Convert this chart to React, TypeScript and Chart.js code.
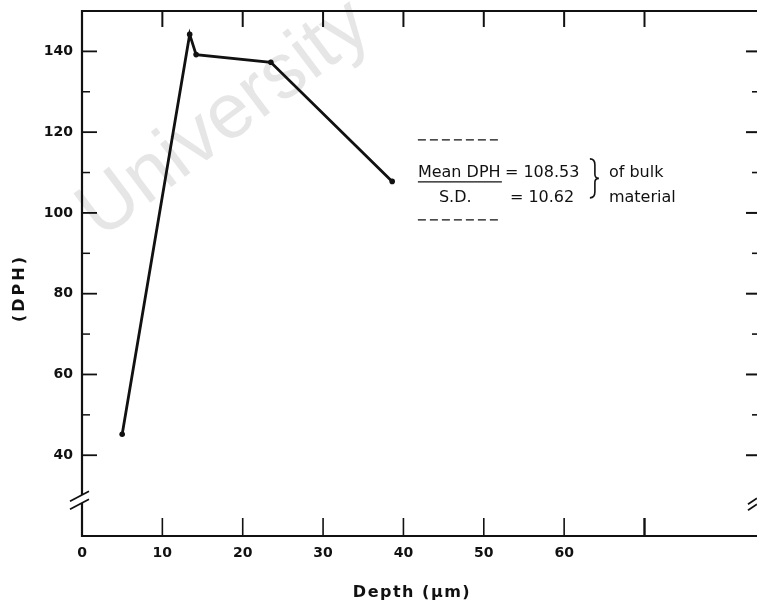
import React, { useEffect, useRef } from "react";
import { Chart, registerables } from "chart.js";

Chart.register(...registerables);

// ---- data ----
const depthUm = [5.0, 13.4, 14.2, 23.5, 38.6];
const dphValues = [45.2, 144.2, 139.2, 137.3, 107.8];

const xTickValues = [0, 10, 20, 30, 40, 50, 60, 70];
const xTickLabels = ["0", "10", "20", "30", "40", "50", "60", ""];
const yMajorTicks = [40, 60, 80, 100, 120, 140];
const yTickLabels = ["40", "60", "80", "100", "120", "140"];
const yMinorTicks = [50, 70, 90, 110, 130];
const axisBreakValue = 28.6;

const xAxisTitle = "Depth (μm)";
const yAxisTitle = "(DPH)";
const meanLabel = "Mean DPH";
const meanValue = "= 108.53";
const sdLabel = "S.D.";
const sdValue = "= 10.62";
const noteLines = ["of bulk", "material"];
const annotationAnchor = { x: 41.8, y: 118.1 };
const watermarkText = "University";

const INK = "#111111";
const TEXT_FONT = "16px 'DejaVu Sans', sans-serif";

function line(ctx: CanvasRenderingContext2D, x1: number, y1: number, x2: number, y2: number, w: number) {
  ctx.lineWidth = w;
  ctx.beginPath();
  ctx.moveTo(x1, y1);
  ctx.lineTo(x2, y2);
  ctx.stroke();
}

const framePlugin = {
  id: "framePlugin",
  beforeDraw(chart: any) {
    const { ctx, width, height } = chart;
    ctx.save();
    ctx.fillStyle = "#ffffff";
    ctx.fillRect(0, 0, width, height);
    // faint watermark
    ctx.translate(101, 240);
    ctx.rotate((-37 * Math.PI) / 180);
    ctx.font = "78px 'Liberation Sans', Arial, sans-serif";
    ctx.fillStyle = "#e6e6e6";
    ctx.textBaseline = "alphabetic";
    ctx.textAlign = "left";
    ctx.fillText(watermarkText, 0, 0);
    ctx.restore();
  },
  afterDraw(chart: any) {
    const { ctx, chartArea: a, scales } = chart;
    const xs = scales.x;
    const ys = scales.y;
    ctx.save();
    ctx.strokeStyle = INK;
    ctx.fillStyle = INK;
    ctx.lineCap = "butt";

    const yb = ys.getPixelForValue(axisBreakValue);
    // left axis with break
    line(ctx, a.left, a.top - 1, a.left, yb - 6.3, 2.2);
    line(ctx, a.left, yb + 1.7, a.left, a.bottom + 1, 2.2);
    line(ctx, a.left - 12, yb, a.left + 7, yb - 10, 1.8);
    line(ctx, a.left - 12, yb + 8, a.left + 7, yb - 2, 1.8);
    // top border and bottom axis
    line(ctx, a.left - 1, a.top, a.right, a.top, 2);
    line(ctx, a.left - 1, a.bottom, a.right, a.bottom, 2);

    // left ticks (inward)
    yMajorTicks.forEach((v) => {
      const y = ys.getPixelForValue(v);
      line(ctx, a.left, y, a.left + 15, y, 1.8);
    });
    yMinorTicks.forEach((v) => {
      const y = ys.getPixelForValue(v);
      line(ctx, a.left, y, a.left + 8, y, 1.5);
    });
    // right ticks (inward)
    yMajorTicks.forEach((v) => {
      const y = ys.getPixelForValue(v);
      line(ctx, a.right - 11, y, a.right, y, 2);
    });
    yMinorTicks.forEach((v) => {
      const y = ys.getPixelForValue(v);
      line(ctx, a.right - 5, y, a.right, y, 1.6);
    });
    // right break
    line(ctx, a.right - 9, yb + 3, a.right, yb - 3, 1.8);
    line(ctx, a.right - 9, yb + 9, a.right, yb + 3, 1.8);

    // top and bottom ticks (inward)
    xTickValues.forEach((v) => {
      if (v === 0) return;
      const x = xs.getPixelForValue(v);
      line(ctx, x, a.top, x, a.top + 16, 2);
      line(ctx, x, a.bottom, x, a.bottom - 18, v === 70 ? 2.4 : 1.6);
    });

    // annotation
    const ax = xs.getPixelForValue(annotationAnchor.x);
    const ay = ys.getPixelForValue(annotationAnchor.y);
    ctx.setLineDash([8, 4]);
    line(ctx, ax, ay, ax + 84, ay, 1.4);
    line(ctx, ax, ay + 80, ax + 84, ay + 80, 1.4);
    ctx.setLineDash([]);
    ctx.font = TEXT_FONT;
    ctx.textBaseline = "alphabetic";
    ctx.textAlign = "left";
    ctx.fillText(meanLabel, ax, ay + 37);
    line(ctx, ax, ay + 42, ax + 84, ay + 42, 1.4);
    ctx.fillText(meanValue, ax + 87, ay + 37);
    ctx.fillText(sdLabel, ax + 21, ay + 62);
    ctx.fillText(sdValue, ax + 92, ay + 62);
    ctx.fillText(noteLines[0], ax + 191, ay + 37);
    ctx.fillText(noteLines[1], ax + 191, ay + 62);
    // brace
    const bx = ax + 172;
    const bt = ay + 19;
    const bb = ay + 58;
    const bm = (bt + bb) / 2;
    ctx.lineWidth = 1.6;
    ctx.beginPath();
    ctx.moveTo(bx, bt);
    ctx.quadraticCurveTo(bx + 5, bt, bx + 5, bt + 6);
    ctx.lineTo(bx + 5, bm - 4);
    ctx.quadraticCurveTo(bx + 5, bm, bx + 9, bm);
    ctx.quadraticCurveTo(bx + 5, bm, bx + 5, bm + 4);
    ctx.lineTo(bx + 5, bb - 6);
    ctx.quadraticCurveTo(bx + 5, bb, bx, bb);
    ctx.stroke();

    // axis titles
    ctx.font = "bold 16px 'DejaVu Sans', sans-serif";
    (ctx as any).letterSpacing = "1.5px";
    ctx.textAlign = "center";
    ctx.textBaseline = "alphabetic";
    ctx.fillText(xAxisTitle, 412, 597);
    ctx.save();
    (ctx as any).letterSpacing = "3px";
    ctx.translate(24, 288);
    ctx.rotate(-Math.PI / 2);
    ctx.fillText(yAxisTitle, 0, 0);
    ctx.restore();
    ctx.restore();
  },
};

export default function App() {
  const ref = useRef<HTMLCanvasElement | null>(null);
  useEffect(() => {
    document.body.style.margin = "0";
    const canvas = ref.current;
    if (!canvas) return;
    const chart = new Chart(canvas, {
      type: "line",
      data: {
        datasets: [
          {
            label: "DPH",
            data: depthUm.map((x, i) => ({ x, y: dphValues[i] })),
            borderColor: INK,
            backgroundColor: INK,
            borderWidth: 2.8,
            pointRadius: 2.8,
            pointBackgroundColor: INK,
            pointBorderWidth: 0,
            tension: 0,
            fill: false,
            clip: false,
          },
        ],
      },
      options: {
        responsive: false,
        animation: false,
        events: [],
        layout: { autoPadding: false, padding: { top: 11, right: 0, bottom: 0, left: 0 } },
        plugins: { legend: { display: false }, tooltip: { enabled: false }, title: { display: false } },
        scales: {
          x: {
            type: "linear",
            min: 0,
            max: 84,
            grid: { display: false, drawTicks: false, tickLength: 0 },
            border: { display: false },
            afterBuildTicks: (s: any) => {
              s.ticks = xTickValues.map((v) => ({ value: v }));
            },
            afterFit: (s: any) => {
              s.height = 65;
              s.paddingLeft = 0;
              s.paddingRight = 0;
            },
            ticks: {
              autoSkip: false,
              maxRotation: 0,
              padding: 9,
              color: INK,
              font: { family: "'DejaVu Sans', sans-serif", size: 14, weight: "bold" },
              callback: (v: any) => {
                const i = xTickValues.indexOf(Number(v));
                return i >= 0 ? xTickLabels[i] : "";
              },
            },
          },
          y: {
            type: "linear",
            min: 20,
            max: 150,
            grid: { display: false, drawTicks: false, tickLength: 0 },
            border: { display: false },
            afterBuildTicks: (s: any) => {
              s.ticks = yMajorTicks.map((v) => ({ value: v }));
            },
            afterFit: (s: any) => {
              s.width = 82;
              s.paddingTop = 0;
              s.paddingBottom = 0;
            },
            ticks: {
              autoSkip: false,
              padding: 9,
              color: INK,
              font: { family: "'DejaVu Sans', sans-serif", size: 14, weight: "bold" },
              callback: (v: any) => {
                const i = yMajorTicks.indexOf(Number(v));
                return i >= 0 ? yTickLabels[i] : "";
              },
            },
          },
        },
      },
      plugins: [framePlugin],
    } as any);
    return () => chart.destroy();
  }, []);
  return (
    <div style={{ width: 757, height: 601, position: "relative" }}>
      <canvas ref={ref} width={757} height={601} style={{ display: "block" }} />
    </div>
  );
}
